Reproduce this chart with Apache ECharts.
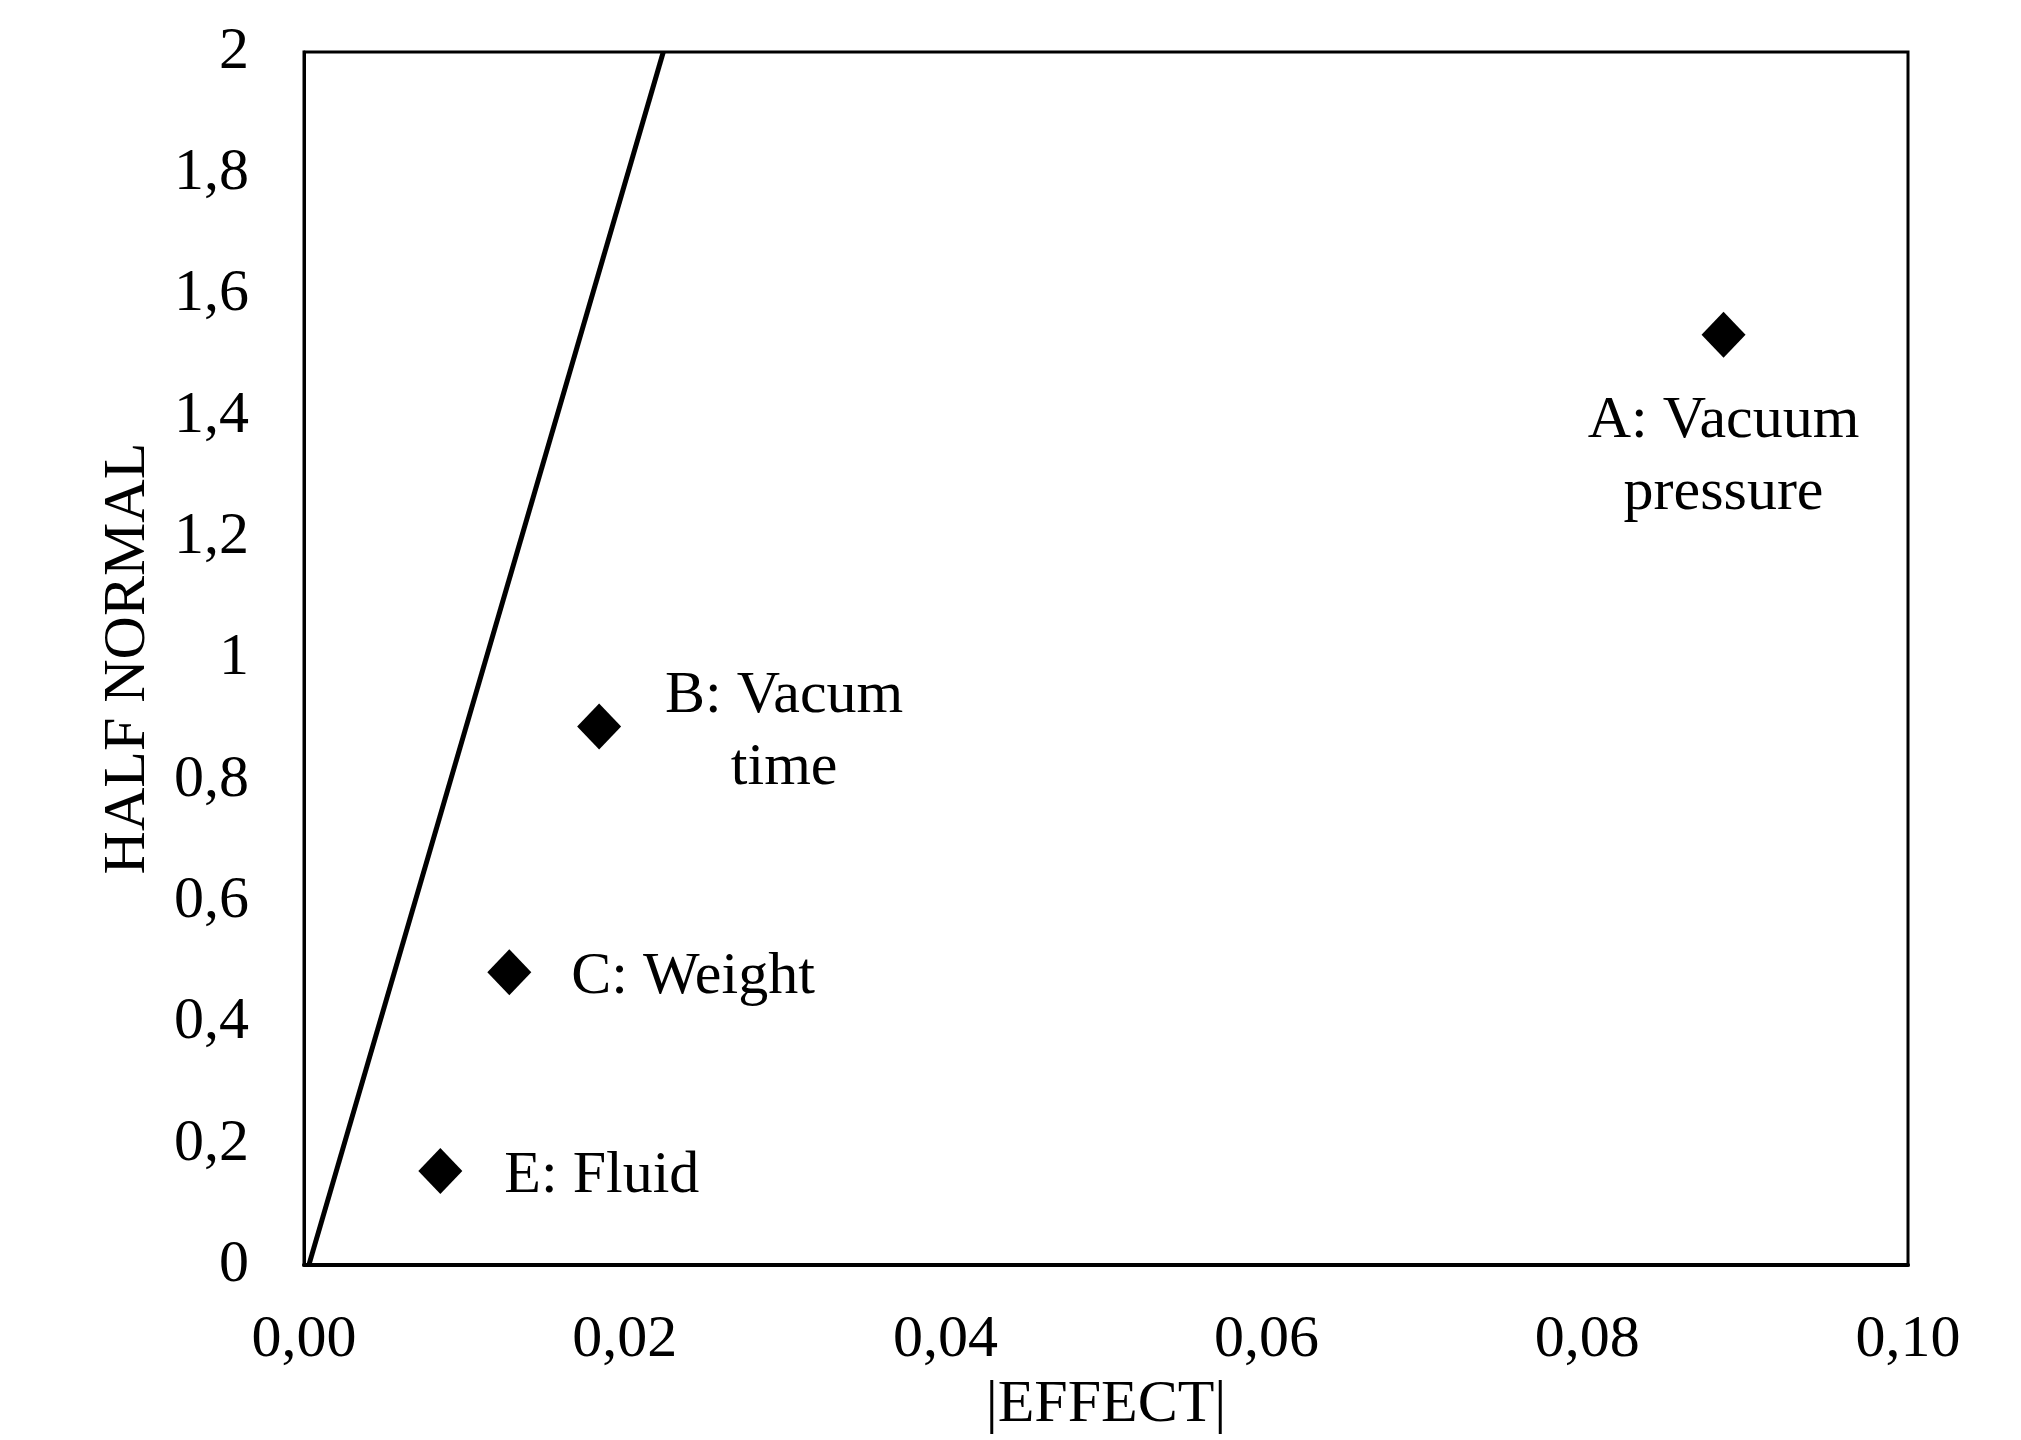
<!DOCTYPE html>
<html>
<head>
<meta charset="utf-8">
<script src="https://cdn.jsdelivr.net/npm/echarts@6/dist/echarts.min.js"></script>
<style>
html,body{margin:0;padding:0;background:#fff;}
#chart{width:2021px;height:1440px;}
</style>
</head>
<body>
<div id="chart"></div>
<script>
// Data
const effectX = [0.0885, 0.0184, 0.0128, 0.0085];
const halfNormal = [1.534, 0.888, 0.483, 0.155];
const pointLabels = ['A: Vacuum\npressure', 'B: Vacum\ntime', 'C: Weight', 'E: Fluid'];
const refLineX = [0.0003, 0.0224];
const refLineY = [0, 2];

const FONT = '"Liberation Serif", "Times New Roman", serif';

const labelPlacement = [
  { position: 'bottom', distance: 28, align: 'center' },
  { position: 'right', distance: 163, align: 'center', offset: [0, 6] },
  { position: 'right', distance: 40, align: 'left', offset: [0, 5] },
  { position: 'right', distance: 42, align: 'left', offset: [0, 5] }
];

const scatterData = effectX.map((x, i) => ({
  value: [x, halfNormal[i]],
  name: pointLabels[i],
  label: Object.assign({
    show: true,
    formatter: pointLabels[i],
    fontFamily: FONT,
    fontSize: 60,
    lineHeight: 72,
    color: '#000'
  }, labelPlacement[i])
}));

const lineData = refLineX.map((x, i) => [x, refLineY[i]]);

const chart = echarts.init(document.getElementById('chart'), null, { renderer: 'canvas' });
chart.setOption({
  backgroundColor: '#fff',
  animation: false,
  grid: {
    left: 304, right: 113, top: 52, bottom: 172,
    show: true, borderColor: '#000', borderWidth: 3, backgroundColor: 'transparent'
  },
  xAxis: {
    type: 'value', min: 0, max: 0.1, interval: 0.02,
    name: '|EFFECT|', nameLocation: 'middle', nameGap: 108,
    nameTextStyle: { fontFamily: FONT, fontSize: 60, color: '#000' },
    axisLine: { show: true, onZero: false, lineStyle: { color: '#000', width: 4 } },
    axisTick: { show: false },
    splitLine: { show: false },
    axisLabel: {
      fontFamily: FONT, fontSize: 60, color: '#000', margin: 45,
      formatter: v => v.toFixed(2).replace('.', ',')
    }
  },
  yAxis: {
    type: 'value', min: 0, max: 2, interval: 0.2,
    name: 'HALF NORMAL', nameLocation: 'middle', nameGap: 146,
    nameTextStyle: { fontFamily: FONT, fontSize: 60, color: '#000' },
    axisLine: { show: true, onZero: false, lineStyle: { color: '#000', width: 3 } },
    axisTick: { show: false },
    splitLine: { show: false },
    axisLabel: {
      fontFamily: FONT, fontSize: 60, color: '#000', margin: 55,
      formatter: v => String(Math.round(v * 10) / 10).replace('.', ',')
    }
  },
  series: [
    {
      type: 'line',
      data: lineData,
      symbol: 'none',
      lineStyle: { color: '#000', width: 5 },
      z: 2
    },
    {
      type: 'scatter',
      data: scatterData,
      symbol: 'diamond',
      symbolSize: [44, 46],
      itemStyle: { color: '#000', opacity: 1 },
      z: 3
    }
  ]
});
</script>
</body>
</html>
